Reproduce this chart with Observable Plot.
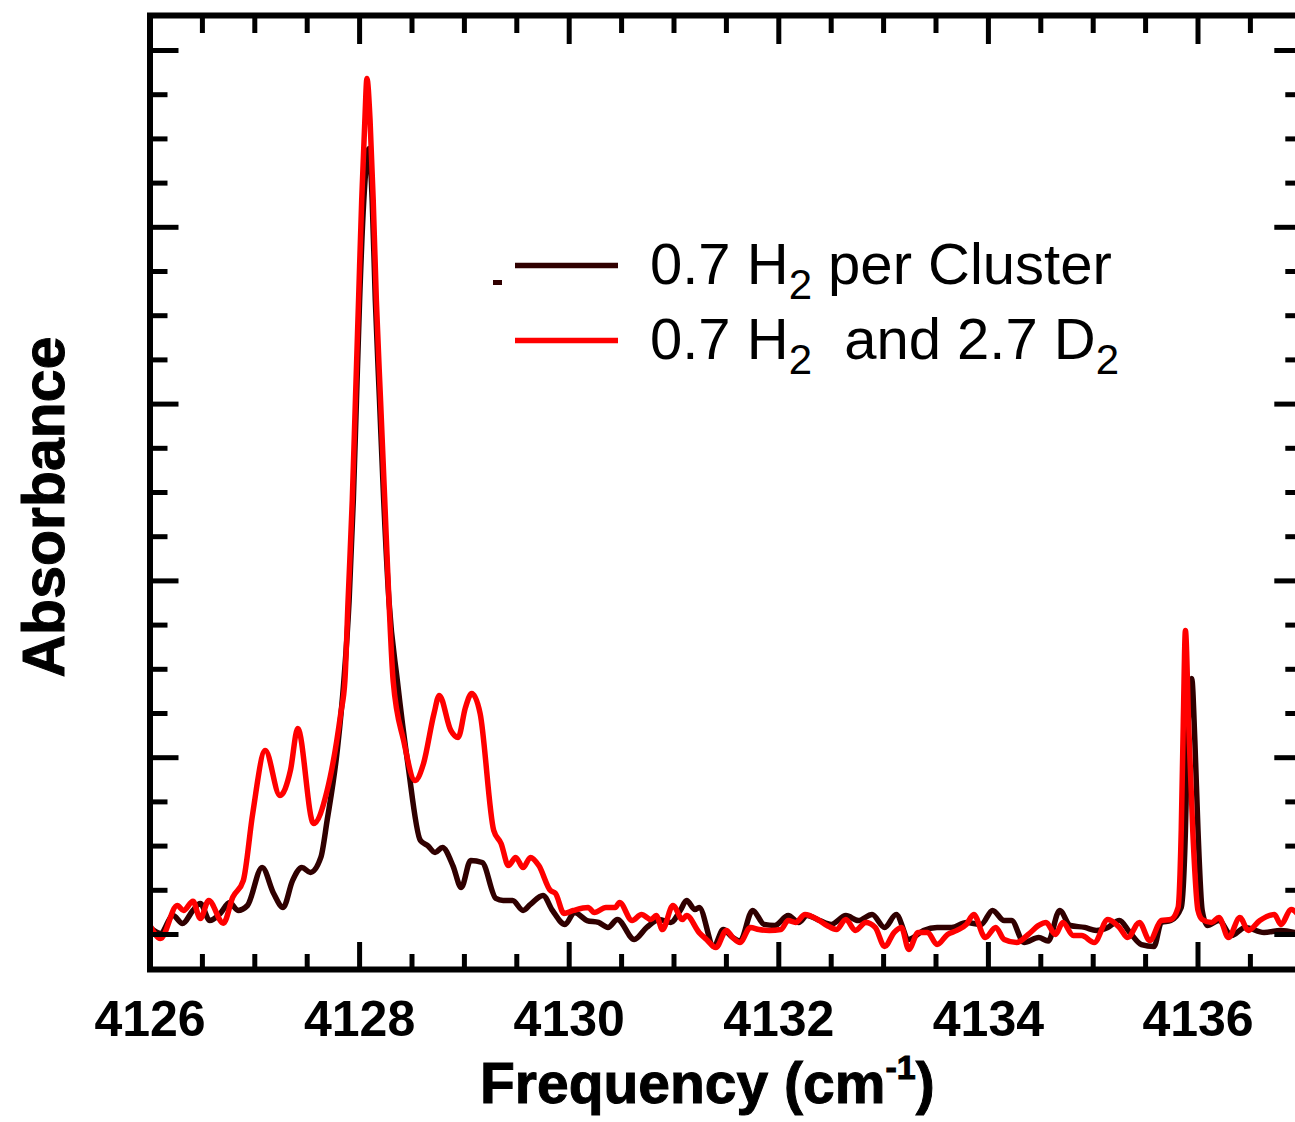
<!DOCTYPE html>
<html><head><meta charset="utf-8">
<script src="https://cdn.jsdelivr.net/npm/d3@7"></script>
<script src="https://cdn.jsdelivr.net/npm/@observablehq/plot@0.6"></script>
<style>
html,body{margin:0;padding:0;background:#fff;overflow:hidden}
#chart{position:relative;width:1295px;height:1122px}
</style></head><body><div id="chart"></div>
<script>
// ---- data (frequency cm^-1, absorbance in arbitrary units) ----
const seriesNames = ["0.7 H2 per Cluster", "0.7 H2 and 2.7 D2"];
const seriesColors = ["#300000", "#ff0000"];

const h2Only = [[4126.00,0.40],[4126.10,0.06],[4126.22,1.07],[4126.31,0.62],[4126.41,1.36],[4126.48,1.75],[4126.57,0.79],[4126.67,1.19],[4126.76,1.81],[4126.84,1.36],[4126.93,1.64],[4127.07,3.79],[4127.18,2.32],[4127.27,1.53],[4127.36,3.05],[4127.45,3.79],[4127.53,3.51],[4127.63,4.36],[4127.69,6.45],[4127.79,10.58],[4127.85,14.37],[4127.90,18.89],[4127.94,24.55],[4127.97,30.20],[4128.00,35.86],[4128.04,41.52],[4128.09,44.46],[4128.12,41.52],[4128.15,35.86],[4128.19,30.20],[4128.23,24.55],[4128.28,18.89],[4128.36,14.37],[4128.46,9.67],[4128.58,5.32],[4128.65,5.03],[4128.72,4.64],[4128.79,4.92],[4128.89,3.90],[4128.97,2.66],[4129.06,4.19],[4129.17,4.07],[4129.30,2.04],[4129.37,1.92],[4129.46,1.92],[4129.56,1.36],[4129.63,1.70],[4129.75,2.21],[4129.84,1.36],[4129.96,0.57],[4130.05,1.24],[4130.17,0.79],[4130.28,0.68],[4130.37,0.40],[4130.46,0.85],[4130.62,-0.28],[4130.74,0.40],[4130.86,0.85],[4130.97,0.68],[4131.06,1.36],[4131.12,1.92],[4131.20,1.41],[4131.24,1.53],[4131.38,-0.68],[4131.47,0.28],[4131.56,-0.17],[4131.63,-0.37],[4131.75,1.36],[4131.86,0.57],[4131.96,0.51],[4132.09,1.07],[4132.19,0.68],[4132.27,1.07],[4132.39,0.79],[4132.50,0.57],[4132.64,1.07],[4132.76,0.79],[4132.89,1.13],[4133.01,0.40],[4133.12,1.13],[4133.24,-0.28],[4133.38,0.23],[4133.51,0.40],[4133.65,0.40],[4133.79,0.68],[4133.93,0.57],[4134.04,1.36],[4134.15,0.79],[4134.22,0.79],[4134.34,-0.45],[4134.48,-0.17],[4134.57,-0.37],[4134.68,1.36],[4134.78,0.51],[4134.92,0.40],[4135.03,0.23],[4135.14,0.40],[4135.25,0.79],[4135.35,0.11],[4135.46,-0.57],[4135.58,-0.68],[4135.65,0.68],[4135.74,0.79],[4135.84,1.53],[4135.88,5.88],[4135.90,10.97],[4135.94,14.48],[4135.97,10.97],[4136.00,5.88],[4136.04,1.36],[4136.09,0.51],[4136.20,0.79],[4136.32,-0.06],[4136.45,0.40],[4136.63,0.11],[4136.79,0.23],[4136.99,0.00]];

const h2D2 = [[4126.00,0.51],[4126.10,-0.23],[4126.26,1.64],[4126.32,1.36],[4126.41,1.88],[4126.48,0.90],[4126.56,1.92],[4126.70,0.64],[4126.79,2.11],[4126.89,3.05],[4126.98,6.84],[4127.10,10.41],[4127.24,7.86],[4127.34,9.28],[4127.41,11.65],[4127.56,6.28],[4127.69,8.14],[4127.82,12.50],[4127.86,14.37],[4127.89,18.89],[4127.93,24.55],[4127.96,30.20],[4127.99,35.86],[4128.02,41.52],[4128.05,46.04],[4128.07,48.42],[4128.10,46.04],[4128.13,41.52],[4128.16,35.86],[4128.20,30.20],[4128.24,24.55],[4128.28,18.89],[4128.32,14.37],[4128.42,10.97],[4128.53,8.71],[4128.61,9.67],[4128.71,12.50],[4128.76,13.52],[4128.87,11.54],[4128.94,11.14],[4129.01,12.84],[4129.07,13.63],[4129.15,12.50],[4129.28,5.88],[4129.35,5.15],[4129.42,3.90],[4129.49,4.36],[4129.56,3.79],[4129.63,4.36],[4129.71,3.90],[4129.82,2.49],[4129.87,2.32],[4129.95,1.19],[4130.04,1.36],[4130.18,1.53],[4130.24,1.24],[4130.35,1.53],[4130.44,1.53],[4130.48,1.81],[4130.60,0.79],[4130.69,1.13],[4130.78,0.85],[4130.83,1.07],[4130.89,0.28],[4130.99,1.64],[4131.08,0.85],[4131.12,1.07],[4131.24,0.11],[4131.31,-0.28],[4131.40,-0.74],[4131.50,0.23],[4131.56,-0.17],[4131.63,-0.45],[4131.73,0.40],[4131.81,0.28],[4131.91,0.23],[4132.02,0.28],[4132.09,0.79],[4132.16,0.68],[4132.25,1.13],[4132.37,0.85],[4132.46,0.51],[4132.55,0.28],[4132.64,0.85],[4132.73,0.23],[4132.83,0.68],[4132.92,0.40],[4133.01,-0.68],[4133.10,0.11],[4133.17,0.40],[4133.24,-0.85],[4133.33,0.11],[4133.42,0.11],[4133.51,-0.57],[4133.61,0.00],[4133.70,0.23],[4133.79,0.57],[4133.86,1.13],[4133.97,-0.17],[4134.07,0.40],[4134.15,-0.28],[4134.27,-0.45],[4134.38,0.00],[4134.48,0.51],[4134.55,0.68],[4134.64,0.00],[4134.71,0.68],[4134.81,-0.06],[4134.89,-0.06],[4135.01,-0.45],[4135.14,0.85],[4135.25,0.40],[4135.33,-0.17],[4135.44,0.68],[4135.54,-0.34],[4135.65,0.79],[4135.74,0.85],[4135.81,1.53],[4135.84,5.88],[4135.86,12.10],[4135.88,17.19],[4135.91,12.10],[4135.95,5.88],[4136.00,1.36],[4136.04,0.85],[4136.13,0.68],[4136.20,0.96],[4136.29,-0.17],[4136.40,0.96],[4136.48,0.23],[4136.59,0.79],[4136.73,1.13],[4136.79,0.57],[4136.89,1.41],[4136.99,0.85]];

const xDomain = [4126, 4137];
const yDomain = [-1.98, 51.98];
const xMajorTicks = [4126, 4128, 4130, 4132, 4134, 4136];
const xMinorTicks = [4126.5, 4127, 4127.5, 4128.5, 4129, 4129.5, 4130.5, 4131, 4131.5, 4132.5, 4133, 4133.5, 4134.5, 4135, 4135.5, 4136.5];
const yMajorTicks = [0, 10, 20, 30, 40, 50];
const yMinorTicks = [2.5, 5, 7.5, 12.5, 15, 17.5, 22.5, 25, 27.5, 32.5, 35, 37.5, 42.5, 45, 47.5];
const xTitle = ["Frequency (cm", "-1", ")"];
const yTitle = "Absorbance";
const legendParts = [
  [["0.7 H", 0], ["2", 1], [" per Cluster", 0]],
  [["0.7 H", 0], ["2", 1], ["  and 2.7 D", 0], ["2", 1]]
];

// ---- build ----
const rows = [
  ...h2Only.map(([f, a]) => ({series: seriesNames[0], f, a})),
  ...h2D2.map(([f, a]) => ({series: seriesNames[1], f, a}))
];
const fontFamily = "'Liberation Sans', Arial, Helvetica, sans-serif";
const tk = {stroke: "black", strokeWidth: 5, tickFormat: () => "", label: null};

const plot = Plot.plot({
  width: 1295, height: 1122,
  marginLeft: 149.5, marginRight: -7.3, marginTop: 15, marginBottom: 153,
  style: {fontFamily, background: "white", color: "black"},
  x: {domain: xDomain},
  y: {domain: yDomain},
  marks: [
    Plot.line(rows.filter(d => d.series === seriesNames[0]), {x: "f", y: "a", stroke: seriesColors[0], strokeWidth: 5.5, strokeLinejoin: "round", curve: "monotone-x", clip: true}),
    Plot.line(rows.filter(d => d.series === seriesNames[1]), {x: "f", y: "a", stroke: seriesColors[1], strokeWidth: 5.5, strokeLinejoin: "round", curve: "monotone-x", clip: true}),
    Plot.axisX({anchor: "bottom", ticks: xMajorTicks, tickSize: -27, ...tk}),
    Plot.axisX({anchor: "bottom", ticks: xMinorTicks, tickSize: -15, ...tk}),
    Plot.axisX({anchor: "top", ticks: xMajorTicks, tickSize: -28, ...tk}),
    Plot.axisX({anchor: "top", ticks: xMinorTicks, tickSize: -17, ...tk}),
    Plot.axisY({anchor: "left", ticks: yMajorTicks, tickSize: -29, ...tk}),
    Plot.axisY({anchor: "left", ticks: yMinorTicks, tickSize: -18, ...tk}),
    Plot.axisY({anchor: "right", ticks: yMajorTicks, tickSize: -29, ...tk}),
    Plot.axisY({anchor: "right", ticks: yMinorTicks, tickSize: -18, ...tk}),
    Plot.axisX({anchor: "bottom", ticks: xMajorTicks, tickSize: 0, tickPadding: 31, tickFormat: d => String(d), fontSize: 50, fontWeight: "bold", stroke: "black", strokeWidth: 1.2, label: null}),
    Plot.frame({stroke: "black", strokeWidth: 6})
  ]
});
document.getElementById("chart").appendChild(plot);

const svg = d3.select(plot);
// x title
const xt = svg.append("text").attr("x", 480).attr("y", 1103).attr("text-anchor", "start")
  .attr("font-size", 57).attr("font-weight", "bold").attr("fill", "black")
  .attr("stroke", "black").attr("stroke-width", 1).style("font-family", fontFamily);
xt.append("tspan").text(xTitle[0]);
xt.append("tspan").attr("font-size", 34).attr("dy", -24).text(xTitle[1]);
xt.append("tspan").attr("dy", 24).text(xTitle[2]);
// y title
svg.append("text").attr("transform", "translate(64,507) rotate(-90)")
  .attr("text-anchor", "middle").attr("font-size", 59).attr("font-weight", "bold")
  .attr("fill", "black").attr("stroke", "black").attr("stroke-width", 1)
  .style("font-family", fontFamily).text(yTitle);

// legend
const legendY = [265.5, 340.5];
const lg = svg.append("g").style("font-family", fontFamily).attr("text-anchor", "start");
legendParts.forEach((parts, i) => {
  lg.append("line").attr("x1", 515).attr("x2", 618).attr("y1", legendY[i]).attr("y2", legendY[i])
    .attr("stroke", seriesColors[i]).attr("stroke-width", 5.5);
  const t = lg.append("text").attr("x", 650).attr("y", legendY[i] + 18).attr("text-anchor", "start")
    .attr("font-size", 58).attr("fill", "black");
  let sub = 0;
  parts.forEach(([s, isSub]) => {
    const ts = t.append("tspan").text(s);
    if (isSub && !sub) { ts.attr("font-size", 42).attr("dy", 15); sub = 1; }
    else if (!isSub && sub) { ts.attr("dy", -15); sub = 0; }
    else if (isSub) { ts.attr("font-size", 42); }
  });
});
lg.append("rect").attr("x", 493).attr("y", 280).attr("width", 9).attr("height", 5).attr("fill", seriesColors[0]);
</script></body></html>
